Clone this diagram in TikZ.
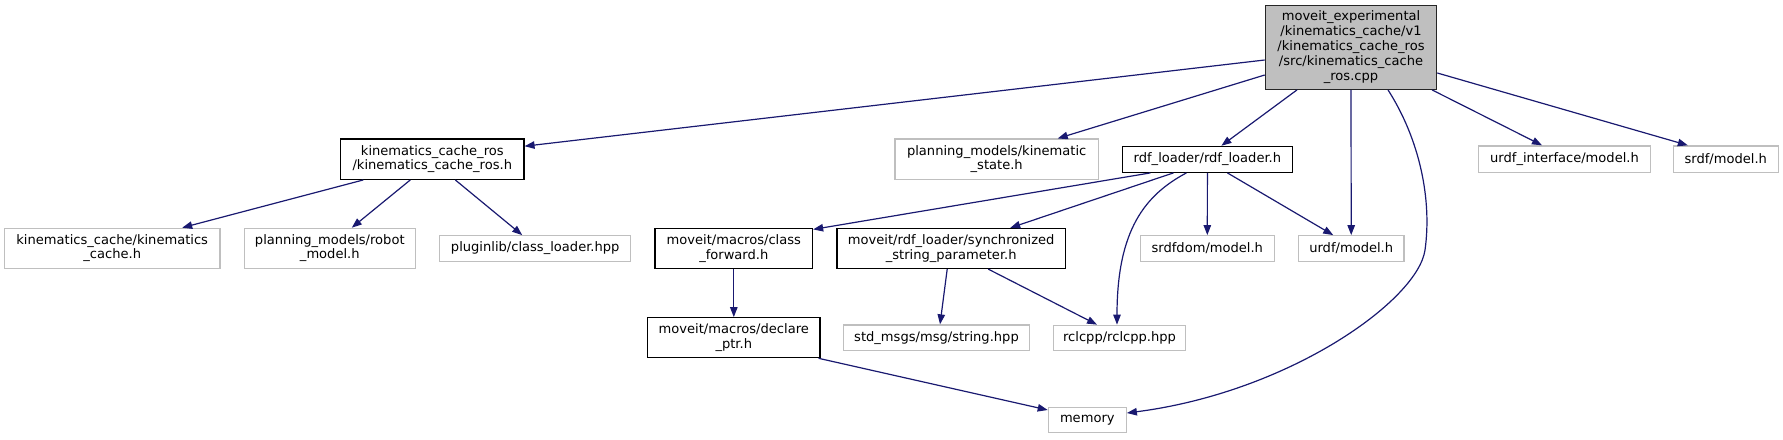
\documentclass[tikz,border=0pt]{standalone}
\usepackage{fontspec}
\setmainfont{DejaVu Sans}
\usetikzlibrary{arrows.meta,calc}
\definecolor{edgeblue}{HTML}{191970}
\definecolor{greyline}{HTML}{BFBFBF}
\definecolor{rootfill}{HTML}{BFBFBF}
\begin{document}
\begin{tikzpicture}[x=0.75pt,y=-0.75pt,
  sz/.style 2 args={minimum width=#1*0.75pt,minimum height=#2*0.75pt},
  box/.style={draw=black,line width=0.9pt,inner sep=0pt,align=center,
    font=\fontsize{9.8}{10.9}\selectfont,text=black},
  ext/.style={box,draw=greyline},
  rootbox/.style={box,fill=rootfill,draw=black!85,font=\fontsize{9.8}{11.25}\selectfont},
  dep/.style={draw=edgeblue,line width=0.9pt,-{Triangle[length=7.5pt,width=5.6pt]}}]
\useasboundingbox (0,0) rectangle (1783,439);

% nodes
\node[rootbox,sz={171.4}{83.6}] (root) at (1351,47.5)
  {moveit\_experimental\\/kinematics\_cache/v1\\/kinematics\_cache\_ros\\/src/kinematics\_cache\\\_ros.cpp};
\node[box,sz={183.3}{40.3}] (kcr) at (432.3,159.2) {kinematics\_cache\_ros\\/kinematics\_cache\_ros.h};
\node[ext,sz={215.7}{40}] (kc) at (112.2,248.3) {kinematics\_cache/kinematics\\\_cache.h};
\node[ext,sz={171}{40}] (rm) at (329.8,248.3) {planning\_models/robot\\\_model.h};
\node[ext,sz={191}{25.6}] (pl) at (535.2,248.5) {pluginlib/class\_loader.hpp};
\node[ext,sz={203.3}{40.3}] (ks) at (996.7,159.2) {planning\_models/kinematic\\\_state.h};
\node[box,sz={170.2}{26}] (rdf) at (1207.4,159.3) {rdf\_loader/rdf\_loader.h};
\node[ext,sz={171.6}{26.6}] (ui) at (1564.5,159.2) {urdf\_interface/model.h};
\node[ext,sz={105}{26.6}] (srdf) at (1725.8,159.2) {srdf/model.h};
\node[box,sz={157.5}{40}] (cf) at (733.8,248.5) {moveit/macros/class\\\_forward.h};
\node[box,sz={228.3}{40}] (sync) at (951.2,248.5) {moveit/rdf\_loader/synchronized\\\_string\_parameter.h};
\node[ext,sz={134}{25.6}] (srdfdom) at (1207.3,248.5) {srdfdom/model.h};
\node[ext,sz={105.7}{25.6}] (urdfm) at (1351.2,248.5) {urdf/model.h};
\node[box,sz={172.3}{40}] (dp) at (733.8,337.7) {moveit/macros/declare\\\_ptr.h};
\node[ext,sz={185.6}{25.7}] (std) at (936.5,337.8) {std\_msgs/msg/string.hpp};
\node[ext,sz={132.5}{25.5}] (rcl) at (1119.5,338) {rclcpp/rclcpp.hpp};
\node[ext,sz={78}{25.4}] (mem) at (1087.3,420) {memory};

% edges from root
\draw[dep] ($(root.west)+(0,12.5)$) -- ($(kcr.east)+(0,-13)$);
\draw[dep] ($(root.west)+(0,27.5)$) -- ($(ks.north)+(61,0)$);
\draw[dep] ($(root.south)+(-54,0)$) -- ($(rdf.north)+(14,0)$);
\draw[dep] (root.south) -- (urdfm.north);
\draw[dep] ($(root.south)+(37,0)$) .. controls (1420,140) and (1432,200) .. (1425,250)
  .. controls (1418,300) and (1290,392) .. ($(mem.east)+(0,-7)$);
\draw[dep] ($(root.south)+(81,0)$) -- ($(ui.north)+(-22.5,0)$);
\draw[dep] ($(root.east)+(0,25.5)$) -- ($(srdf.north)+(-38,0)$);

% edges from kinematics_cache_ros.h
\draw[dep] ($(kcr.south)+(-69,0)$) -- ($(kc.north)+(70,0)$);
\draw[dep] ($(kcr.south)+(-22,0)$) -- ($(rm.north)+(22,0)$);
\draw[dep] ($(kcr.south)+(23,0)$) -- ($(pl.north)+(-13,0)$);

% edges from rdf_loader.h
\draw[dep] ($(rdf.south)+(-57,0)$) -- ($(cf.north east)+(0,1.5)$);
\draw[dep] ($(rdf.south)+(-34,0)$) -- ($(sync.north)+(59,0)$);
\draw[dep] ($(rdf.south)+(-21,0)$) .. controls (1145,195) and (1117,230) .. ($(rcl.north)+(-2.5,0)$);
\draw[dep] (rdf.south) -- (srdfdom.north);
\draw[dep] ($(rdf.south)+(20,0)$) -- ($(urdfm.north)+(-18,0)$);

% remaining edges
\draw[dep] (cf.south) -- (dp.north);
\draw[dep] ($(sync.south)+(-4,0)$) -- ($(std.north)+(3.5,0)$);
\draw[dep] ($(sync.south)+(37,0)$) -- ($(rcl.north)+(-22.5,0)$);
\draw[dep] ($(dp.south east)+(-2,0)$) -- ($(mem.west)+(0,-10)$);
\end{tikzpicture}
\end{document}
